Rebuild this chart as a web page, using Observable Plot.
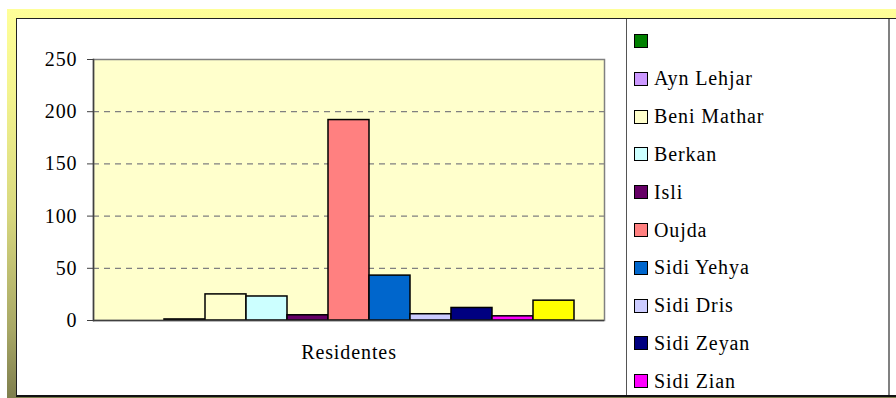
<!DOCTYPE html>
<html>
<head>
<meta charset="utf-8">
<script src="https://cdn.jsdelivr.net/npm/d3@7"></script>
<script src="https://cdn.jsdelivr.net/npm/@observablehq/plot@0.6"></script>
<style>
  html, body { margin: 0; padding: 0; background: #fff; }
  #wrap { position: relative; width: 896px; height: 398px; overflow: hidden; font-family: "Liberation Serif", "Times New Roman", serif; }
  #outer { position: absolute; left: 7px; top: 9px; width: 1000px; height: 400px;
    background: linear-gradient(to bottom, #FFFF99 0%, #F4F490 20%, #D9D97F 50%, #A8A866 80%, #78784A 100%); }
  #area { position: absolute; left: 16px; top: 18px; width: 1000px; height: 376px; background: #fff;
    border-top: 1.5px solid #222; border-left: 1.5px solid #222; border-bottom: 2px solid #111; }
  #chart { position: absolute; left: 17px; top: 19px; }
  #legend { position: absolute; left: 626px; top: 19px; width: 264px; height: 376px; overflow: hidden;
    border-left: 1.5px solid #555; border-right: 2px solid #808080; box-sizing: border-box; }
  .entry { position: absolute; left: 7px; height: 22px; display: flex; align-items: center; white-space: nowrap;
    font-size: 20px; letter-spacing: 0.9px; color: #000; }
  .sw { width: 12px; height: 12px; border: 1.5px solid #000; margin-right: 6px; flex: none; }
</style>
</head>
<body>
<div id="wrap">
  <div id="outer"></div>
  <div id="area"></div>
  <div id="chart"></div>
  <div id="legend"></div>
</div>
<script>
const category = "Residentes";
const series = ["", "Ayn Lehjar", "Beni Mathar", "Berkan", "Isli", "Oujda", "Sidi Yehya", "Sidi Dris", "Sidi Zeyan", "Sidi Zian", "Otros"];
const values = [0, 1, 25, 23, 5, 192, 43, 6, 12, 4, 19];
const colors = ["#008000", "#CC99FF", "#FFFFCC", "#CCFFFF", "#660066", "#FF8080", "#0066CC", "#CCCCFF", "#000080", "#FF00FF", "#FFFF00"];
const yTicks = [0, 50, 100, 150, 200, 250];

const data = series.map((s, i) => ({category, series: s, value: values[i]}));

const chart = Plot.plot({
  width: 609,
  height: 376,
  marginLeft: 76,
  marginRight: 22,
  marginTop: 40,
  marginBottom: 75,
  style: {fontFamily: "'Liberation Serif', 'Times New Roman', serif", fontSize: "20px", background: "transparent", overflow: "visible", color: "#000", letterSpacing: "0.9px"},
  fx: {domain: [category], padding: 0, label: null},
  x: {domain: series, paddingInner: 0, paddingOuter: 0.73, axis: null},
  y: {domain: [0, 250], label: null},
  color: {domain: series, range: colors},
  marks: [
    Plot.frame({fill: "#FFFFCC", stroke: "#808080", strokeWidth: 1.5}),
    Plot.gridY(yTicks.filter(t => t > 0 && t < 250), {stroke: "#808080", strokeOpacity: 1, strokeDasharray: "6,5", strokeWidth: 1.2}),
    Plot.barY(data, {fx: "category", x: "series", y: "value", fill: "series", stroke: "#000", strokeWidth: 1.5}),
    Plot.frame({anchor: "left", stroke: "#404040", strokeWidth: 1.5}),
    Plot.ruleY([0], {stroke: "#404040", strokeWidth: 1.5}),
    Plot.axisY(yTicks, {tickSize: 6, tickPadding: 10, stroke: "#404040", fontSize: 20, label: null}),
    Plot.axisFx({anchor: "bottom", tickSize: 0, tickPadding: 24, fontSize: 20, label: null})
  ]
});
document.getElementById("chart").appendChild(chart);

const legend = document.getElementById("legend");
series.forEach((s, i) => {
  const e = document.createElement("div");
  e.className = "entry";
  e.style.top = (22 + i * 37.8 - 11) + "px";
  const sw = document.createElement("div");
  sw.className = "sw";
  sw.style.background = colors[i];
  const t = document.createElement("span");
  t.textContent = s;
  e.appendChild(sw);
  e.appendChild(t);
  legend.appendChild(e);
});
</script>
</body>
</html>
